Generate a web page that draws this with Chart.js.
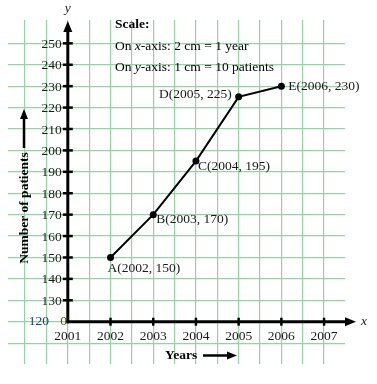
<html>
<head>
	<title>Number of patients</title>
	<script src="https://cdn.jsdelivr.net/npm/chart.js"></script>
	<style>
		body { margin: 0; background: #fff; }
		#wrap { width: 377px; height: 384px; }
	</style>
</head>
<body>
	<div id="wrap"><canvas id="patientChart" width="377" height="384"></canvas></div>
<script>
	const years = [2002, 2003, 2004, 2005, 2006];
	const patients = [150, 170, 195, 225, 230];
	const pointNames = ['A', 'B', 'C', 'D', 'E'];
	const xTickLabels = [2001, 2002, 2003, 2004, 2005, 2006, 2007];
	const yTickLabels = [130, 140, 150, 160, 170, 180, 190, 200, 210, 220, 230, 240, 250];
	const yOrigin = 120;

	const serif = '"Liberation Serif", "DejaVu Serif", serif';
	const fs = '13.5px ';
	const gridColor = '#95d3a5';

	// where each point label sits, relative to its point
	const labelPlace = [
		{ dx: -3, dy: 11, align: 'left' },
		{ dx: 3, dy: 5, align: 'left' },
		{ dx: 2, dy: 5, align: 'left' },
		{ dx: -7, dy: -2, align: 'right' },
		{ dx: 7, dy: 0, align: 'left' }
	];

	const paperGrid = (from, to, step) => (scale) => {
		const t = [];
		for (let v = from; v <= to + 1e-9; v += step) t.push({ value: v });
		scale.ticks = t;
	};

	const arrow = (ctx, x1, y1, x2, y2, head, w) => {
		const a = Math.atan2(y2 - y1, x2 - x1);
		ctx.beginPath();
		ctx.moveTo(x1, y1);
		ctx.lineTo(x2 - Math.cos(a) * head * 0.8, y2 - Math.sin(a) * head * 0.8);
		ctx.stroke();
		ctx.beginPath();
		ctx.moveTo(x2, y2);
		ctx.lineTo(x2 - Math.cos(a) * head - Math.sin(a) * w, y2 - Math.sin(a) * head + Math.cos(a) * w);
		ctx.lineTo(x2 - Math.cos(a) * head + Math.sin(a) * w, y2 - Math.sin(a) * head - Math.cos(a) * w);
		ctx.closePath();
		ctx.fill();
	};

	const graphPaper = {
		id: 'graphPaper',
		afterDatasetsDraw(chart) {
			const ctx = chart.ctx;
			const xs = chart.scales.x, ys = chart.scales.y;
			const ox = xs.getPixelForValue(2001), oy = ys.getPixelForValue(yOrigin);
			ctx.save();
			ctx.strokeStyle = '#000';
			ctx.fillStyle = '#000';
			ctx.lineWidth = 3;
			// axes
			arrow(ctx, ox, oy + 1.5, ox, 21, 11, 4.5);
			arrow(ctx, ox - 1.5, oy, 356, oy, 11, 4.5);
			ctx.lineWidth = 2.5;
			yTickLabels.forEach(v => {
				const y = ys.getPixelForValue(v);
				ctx.beginPath(); ctx.moveTo(ox - 5, y); ctx.lineTo(ox + 5, y); ctx.stroke();
			});
			xTickLabels.slice(1).forEach(v => {
				const x = xs.getPixelForValue(v);
				ctx.beginPath(); ctx.moveTo(x, oy - 4); ctx.lineTo(x, oy + 4); ctx.stroke();
			});
			// tick labels
			ctx.font = fs + serif;
			ctx.fillStyle = '#1a1a1a';
			ctx.textAlign = 'right';
			ctx.textBaseline = 'middle';
			yTickLabels.forEach(v => ctx.fillText(String(v), ox - 6, ys.getPixelForValue(v) + 1));
			ctx.textAlign = 'center';
			xTickLabels.forEach(v => ctx.fillText(String(v), xs.getPixelForValue(v), oy + 15));
			ctx.textAlign = 'right';
			ctx.fillStyle = '#1c3c8e';
			ctx.fillText(String(yOrigin), 49, oy);
			ctx.fillStyle = '#7a4a00';
			ctx.fillText('0', 67, oy);
			// axis letters
			ctx.fillStyle = '#1a1a1a';
			ctx.font = 'italic ' + fs + serif;
			ctx.textAlign = 'center';
			ctx.fillText('y', ox, 8);
			ctx.fillText('x', 364, oy);
			// axis titles
			ctx.font = 'bold ' + fs + serif;
			ctx.fillStyle = '#000';
			ctx.textAlign = 'left';
			ctx.fillText('Years', 165, 356);
			ctx.lineWidth = 2.5;
			arrow(ctx, 203, 355.5, 237, 355.5, 10, 4);
			ctx.save();
			ctx.translate(25, 208);
			ctx.rotate(-Math.PI / 2);
			ctx.textAlign = 'center';
			ctx.fillText('Number of patients', 0, 0);
			ctx.restore();
			arrow(ctx, 24, 148, 24, 109, 10, 4);
			// scale note
			ctx.textAlign = 'left';
			ctx.fillText('Scale:', 115, 25);
			const note = (y, letter, rest) => {
				ctx.font = fs + serif;
				ctx.fillText('On ', 115, y);
				let x = 115 + ctx.measureText('On ').width;
				ctx.font = 'italic ' + fs + serif;
				ctx.fillText(letter, x, y);
				x += ctx.measureText(letter).width;
				ctx.font = fs + serif;
				ctx.fillText(rest, x, y);
			};
			note(46, 'x', '-axis: 2 cm = 1 year');
			note(67, 'y', '-axis: 1 cm = 10 patients');
			// point labels
			ctx.font = fs + serif;
			ctx.fillStyle = '#1a1a1a';
			years.forEach((yr, i) => {
				const p = labelPlace[i];
				ctx.textAlign = p.align;
				ctx.fillText(pointNames[i] + '(' + yr + ', ' + patients[i] + ')',
					xs.getPixelForValue(yr) + p.dx, ys.getPixelForValue(patients[i]) + p.dy);
			});
			ctx.restore();
		}
	};

	const patientChart = new Chart(document.getElementById('patientChart'), {
		type: 'line',
		data: {
			datasets: [{
				data: years.map((yr, i) => ({ x: yr, y: patients[i] })),
				borderColor: '#000',
				backgroundColor: '#000',
				borderWidth: 2,
				pointRadius: 3.5,
				pointBackgroundColor: '#000',
				pointBorderWidth: 0,
				tension: 0
			}]
		},
		options: {
			responsive: false,
			animation: false,
			layout: { padding: { left: 8, top: 20, right: 32, bottom: 20 } },
			plugins: { legend: { display: false }, tooltip: { enabled: false } },
			scales: {
				x: {
					type: 'linear',
					min: 1999.6,
					max: 2007.49,
					afterBuildTicks: paperGrid(2000, 2007, 0.5),
					ticks: { display: false },
					grid: { color: gridColor, lineWidth: 1.2, drawTicks: false },
					border: { display: false }
				},
				y: {
					min: 100.25,
					max: 260.9,
					afterBuildTicks: paperGrid(110, 250, 10),
					ticks: { display: false },
					grid: { color: gridColor, lineWidth: 1.2, drawTicks: false },
					border: { display: false }
				}
			}
		},
		plugins: [graphPaper]
	});
</script>
</body>
</html>
